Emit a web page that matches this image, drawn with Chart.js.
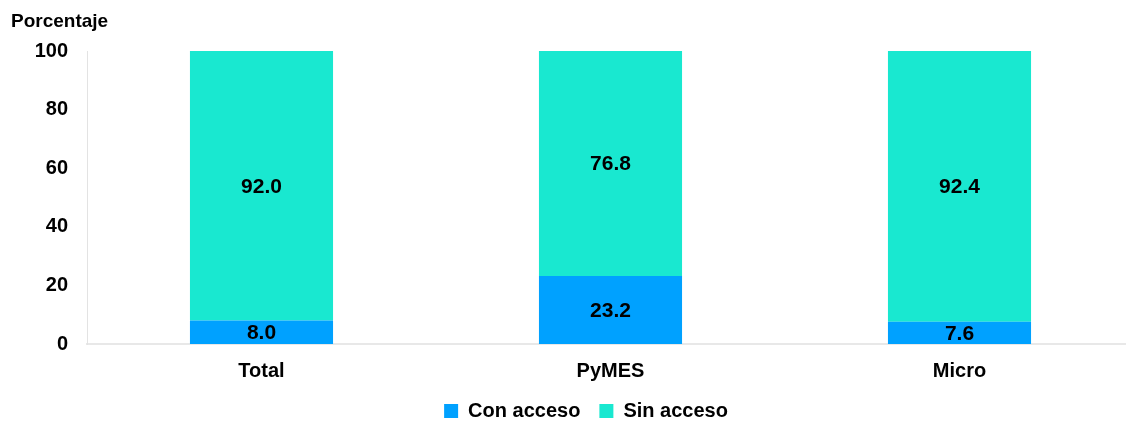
<!DOCTYPE html>
<html>
<head>
<meta charset="utf-8">
<script src="https://cdn.jsdelivr.net/npm/chart.js@4/dist/chart.umd.min.js"></script>
<style>
  html, body { margin: 0; padding: 0; background: #fff; overflow: hidden; }
  #wrap { width: 1144px; height: 431px; position: relative; }
</style>
</head>
<body>
<div id="wrap"><canvas id="c"></canvas></div>
<script>
const categories = ["Total", "PyMES", "Micro"];
const conAcceso = [8.0, 23.2, 7.6];
const sinAcceso = [92.0, 76.8, 92.4];
const seriesNames = ["Con acceso", "Sin acceso"];
const yTicks = [0, 20, 40, 60, 80, 100];
const yTitle = "Porcentaje";

const FONT = "'Liberation Sans', Arial, Helvetica, sans-serif";
const BLUE = "#00A1FF";
const TEAL = "#19E8D0";

const labelPlugin = {
  id: "segLabels",
  afterDatasetsDraw(chart) {
    const ctx = chart.ctx;
    ctx.save();
    ctx.font = "bold 21px " + FONT;
    ctx.fillStyle = "#000";
    ctx.textAlign = "center";
    ctx.textBaseline = "middle";
    chart.data.datasets.forEach((ds, i) => {
      const meta = chart.getDatasetMeta(i);
      meta.data.forEach((bar, j) => {
        const y = (bar.y + bar.base) / 2;
        ctx.fillText(ds.data[j].toFixed(1), bar.x, y + 1);
      });
    });
    ctx.font = "bold 19px " + FONT;
    ctx.textAlign = "left";
    ctx.textBaseline = "alphabetic";
    ctx.fillText(yTitle, 11, 27);
    ctx.restore();
  }
};

new Chart(document.getElementById("c"), {
  type: "bar",
  data: {
    labels: categories,
    datasets: [
      { label: seriesNames[0], data: conAcceso, backgroundColor: BLUE, barPercentage: 0.41, categoryPercentage: 1.0 },
      { label: seriesNames[1], data: sinAcceso, backgroundColor: TEAL, barPercentage: 0.41, categoryPercentage: 1.0 }
    ]
  },
  options: {
    responsive: true,
    maintainAspectRatio: false,
    animation: false,
    layout: { padding: { top: 51, left: 28, right: 0, bottom: 0 } },
    plugins: {
      legend: {
        position: "bottom",
        labels: {
          font: { family: FONT, size: 20, weight: "bold" },
          color: "#000",
          boxWidth: 14,
          boxHeight: 14,
          padding: 19
        }
      },
      tooltip: { enabled: false }
    },
    scales: {
      x: {
        stacked: true,
        grid: { display: false, drawTicks: false },
        border: { display: true, color: "#e8e8e8", width: 2 },
        ticks: { font: { family: FONT, size: 20, weight: "bold" }, color: "#000", padding: 15 },
        afterFit(scale) { scale.height = 38; }
      },
      y: {
        stacked: true,
        min: 0,
        max: 100,
        afterBuildTicks(scale) { scale.ticks = yTicks.map(v => ({ value: v })); },
        grid: { display: false, drawTicks: false },
        border: { display: true, color: "#e3e3e3", width: 1 },
        ticks: { font: { family: FONT, size: 20, weight: "bold" }, color: "#000", padding: 19 },
        afterFit(scale) { scale.width = 59; }
      },
      spacer: {
        type: "linear",
        position: "right",
        display: true,
        grid: { display: false, drawTicks: false },
        border: { display: false },
        ticks: { display: false },
        afterFit(scale) { scale.width = 10; }
      }
    }
  },
  plugins: [labelPlugin]
});
</script>
</body>
</html>
